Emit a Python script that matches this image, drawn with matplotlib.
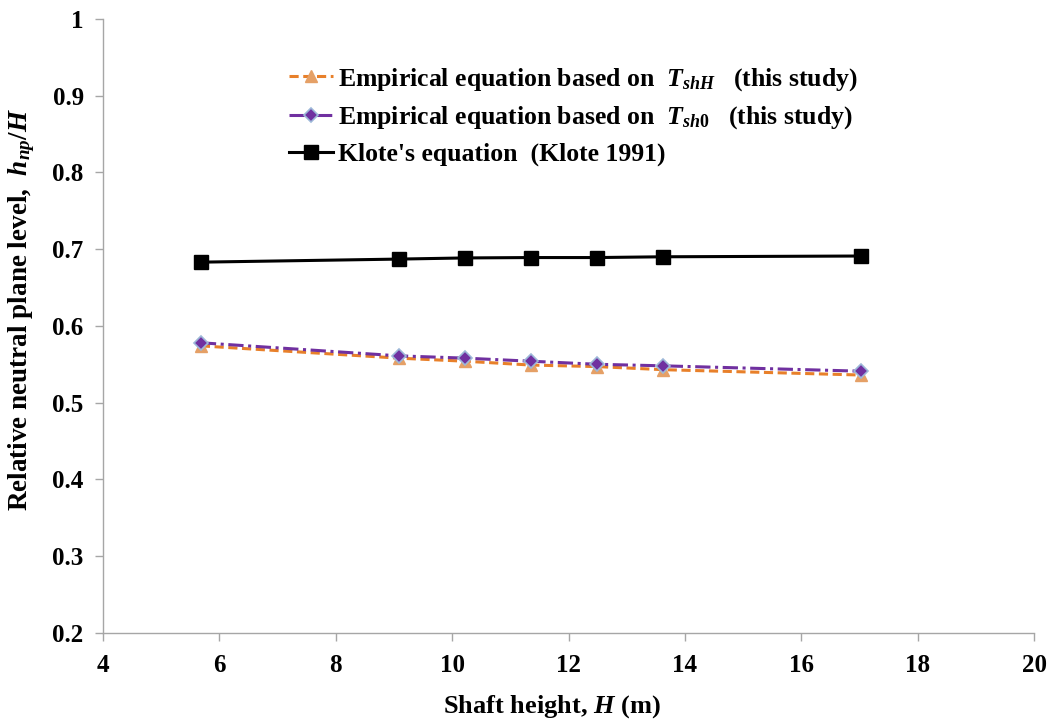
import matplotlib
matplotlib.use("Agg")
import matplotlib.pyplot as plt

H = [5.68, 9.08, 10.22, 11.35, 12.49, 13.62, 17.03]
emp_TshH = [0.574, 0.558, 0.554, 0.549, 0.547, 0.543, 0.536]
emp_Tsh0 = [0.578, 0.561, 0.558, 0.554, 0.550, 0.548, 0.541]
klote = [0.683, 0.687, 0.6885, 0.689, 0.689, 0.690, 0.691]

labels = [
    r"Empirical equation based on  $T_{shH}$   (this study)",
    r"Empirical equation based on  $T_{sh\mathit{0}}$   (this study)",
    r"Klote's equation  (Klote 1991)",
]
xticks = [4, 6, 8, 10, 12, 14, 16, 18, 20]
yticks = [0.2, 0.3, 0.4, 0.5, 0.6, 0.7, 0.8, 0.9, 1.0]
yticklabels = ["0.2", "0.3", "0.4", "0.5", "0.6", "0.7", "0.8", "0.9", "1"]

plt.rcParams['font.family'] = ['Liberation Serif', 'DejaVu Serif']
plt.rcParams['font.weight'] = 'bold'
plt.rcParams['mathtext.fontset'] = 'custom'
plt.rcParams['mathtext.rm'] = 'Liberation Serif:bold'
plt.rcParams['mathtext.it'] = 'Liberation Serif:bold:italic'
plt.rcParams['mathtext.bf'] = 'Liberation Serif:bold'

fig = plt.figure(figsize=(10.52, 7.21), dpi=100)
ax = fig.add_axes([0.098, 0.122, 0.885, 0.852])

ax.plot(H, emp_TshH, color='#E8802A', lw=2.2, ls=(0, (3, 1.5)), marker='^',
        ms=9, mfc='#E5A066', mec='#E5A066', label=labels[0], zorder=3)
ax.plot(H, emp_Tsh0, color='#7030A0', lw=2.2, ls=(0, (5, 1.5, 1, 1.5)), marker='D',
        ms=7, mfc='#7030A0', mec='#9DB8D8', mew=1.2, label=labels[1], zorder=4)
ax.plot(H, klote, color='black', lw=2.2, ls='-', marker='s',
        ms=10, mfc='black', mec='black', label=labels[2], zorder=5)

ax.set_xlim(4, 20)
ax.set_ylim(0.2, 1.0)
ax.set_xticks(xticks)
ax.set_yticks(yticks)
ax.set_yticklabels(yticklabels)
for s in ['top', 'right']:
    ax.spines[s].set_visible(False)
for s in ['left', 'bottom']:
    ax.spines[s].set_color('#A6A6A6')
    ax.spines[s].set_linewidth(1.0)
ax.tick_params(axis='both', direction='out', length=6, color='#A6A6A6',
               labelsize=18, width=1.0)
ax.tick_params(axis='x', pad=9)
ax.tick_params(axis='y', pad=8)
for t in ax.get_xticklabels() + ax.get_yticklabels():
    t.set_fontweight('bold')

ax.set_xlabel(r"Shaft height, $H$ (m)", fontsize=19, fontweight='bold')
ax.set_ylabel(r"Relative neutral plane level,  $h_{np}/H$", fontsize=19.5,
              fontweight='bold')
ax.xaxis.set_label_coords(0.482, -0.098)
ax.yaxis.set_label_coords(-0.0705, 0.526)

leg = ax.legend(loc='upper left', bbox_to_anchor=(0.189, 0.94), frameon=False,
                fontsize=18.5, handlelength=1.7, handletextpad=0.2, labelspacing=0.45,
                borderaxespad=0)
for t in leg.get_texts():
    t.set_fontweight('bold')

fig.savefig('out.png', dpi=100)
